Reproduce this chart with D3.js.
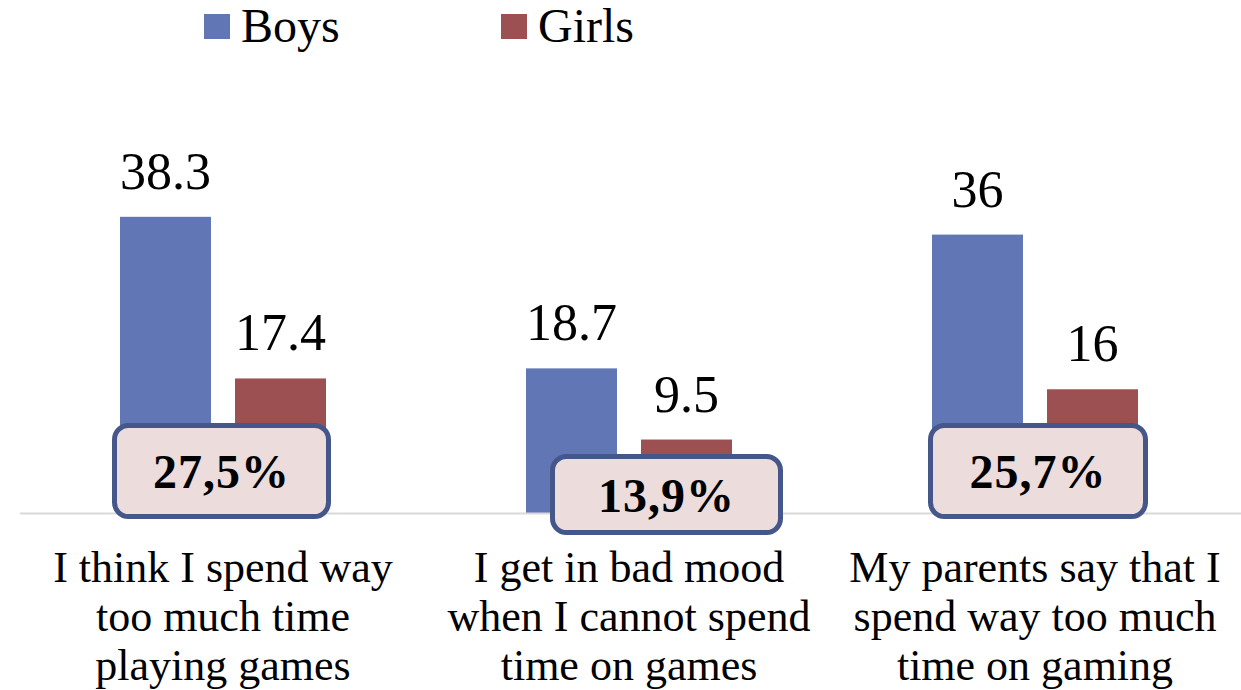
<!DOCTYPE html>
<html>
<head>
<meta charset="utf-8">
<script src="https://cdn.jsdelivr.net/npm/d3@7"></script>
<style>
  html, body { margin: 0; padding: 0; background: #fff; }
  svg { display: block; font-family: "Liberation Serif", "DejaVu Serif", serif; }
</style>
</head>
<body>
<svg id="chart" width="1241" height="690"></svg>
<script>
// data
const categories = [
  ["I think I spend way", "too much time", "playing games"],
  ["I get in bad mood", "when I cannot spend", "time on games"],
  ["My parents say that I", "spend way too much", "time on gaming"]
];
const seriesNames = ["Boys", "Girls"];
const boys = [38.3, 18.7, 36];
const girls = [17.4, 9.5, 16];
const totals = ["27,5%", "13,9%", "25,7%"];

const colors = { Boys: "#6076b5", Girls: "#9d5052" };

const svg = d3.select("#chart");

const catKeys = categories.map((c, i) => "c" + i);
const rows = catKeys.map((k, i) => ({ key: k, Boys: boys[i], Girls: girls[i] }));

const x0 = d3.scaleBand().domain(catKeys).range([20, 1238]);
const x1 = d3.scaleBand().domain(seriesNames).range([100, 306]).paddingInner(0.209);
const y = d3.scaleLinear().domain([0, 45]).range([513, 165]);

// bars
const groups = svg.append("g").selectAll("g")
  .data(rows).join("g")
  .attr("transform", d => `translate(${x0(d.key)},0)`);

groups.selectAll("rect")
  .data(d => seriesNames.map(s => ({ s, v: d[s] })))
  .join("rect")
  .attr("x", d => x1(d.s))
  .attr("y", d => y(d.v))
  .attr("width", x1.bandwidth())
  .attr("height", d => y(0) - y(d.v))
  .attr("fill", d => colors[d.s]);

// value labels
groups.selectAll("text.val")
  .data(d => seriesNames.map(s => ({ s, v: d[s] })))
  .join("text")
  .attr("class", "val")
  .attr("x", d => x1(d.s) + x1.bandwidth() / 2)
  .attr("y", d => y(d.v) - 28)
  .attr("text-anchor", "middle")
  .attr("font-size", 52)
  .attr("fill", "#000")
  .text(d => d.v);

// baseline
svg.append("line")
  .attr("x1", 20).attr("x2", 1241)
  .attr("y1", y(0) + 0.5).attr("y2", y(0) + 0.5)
  .attr("stroke", "#d9d9d9").attr("stroke-width", 2);

// highlight boxes with the totals
const boxes = [
  { dx: -1.5, top: 425.5, w: 214, h: 91 },
  { dx: 37.5, top: 456.5, w: 228, h: 76 },
  { dx: 3, top: 425.5, w: 215, h: 91 }
];
const boxG = svg.append("g").selectAll("g")
  .data(totals.map((t, i) => ({ t, key: catKeys[i], b: boxes[i] })))
  .join("g")
  .attr("transform", d => `translate(${x0(d.key) + x0.bandwidth() / 2 + d.b.dx},0)`);

boxG.append("rect")
  .attr("x", d => -d.b.w / 2)
  .attr("y", d => d.b.top)
  .attr("width", d => d.b.w)
  .attr("height", d => d.b.h)
  .attr("rx", 14)
  .attr("fill", "#ecdcdc")
  .attr("stroke", "#45568a")
  .attr("stroke-width", 5);

boxG.append("text")
  .attr("x", 0)
  .attr("y", d => d.b.top + d.b.h / 2 + 17)
  .attr("text-anchor", "middle")
  .attr("font-size", 48)
  .attr("font-weight", "bold")
  .attr("letter-spacing", 1)
  .attr("fill", "#000")
  .text(d => d.t);

// category labels
const catText = svg.append("g").selectAll("text")
  .data(categories.map((c, i) => ({ lines: c, key: catKeys[i] })))
  .join("text")
  .attr("text-anchor", "middle")
  .attr("font-size", 44)
  .attr("fill", "#000");

catText.selectAll("tspan")
  .data(d => d.lines.map(l => ({ l, cx: x0(d.key) + x0.bandwidth() / 2 })))
  .join("tspan")
  .attr("x", d => d.cx)
  .attr("y", (d, i) => 582 + i * 49)
  .text(d => d.l);

// legend
const legend = svg.append("g").selectAll("g")
  .data(seriesNames)
  .join("g")
  .attr("transform", (d, i) => `translate(${204 + i * 297},0)`);

legend.append("rect")
  .attr("x", 0).attr("y", 14)
  .attr("width", 26).attr("height", 25)
  .attr("fill", d => colors[d]);

legend.append("text")
  .attr("x", 37).attr("y", 42)
  .attr("font-size", 48)
  .attr("fill", "#000")
  .text(d => d);
</script>
</body>
</html>
